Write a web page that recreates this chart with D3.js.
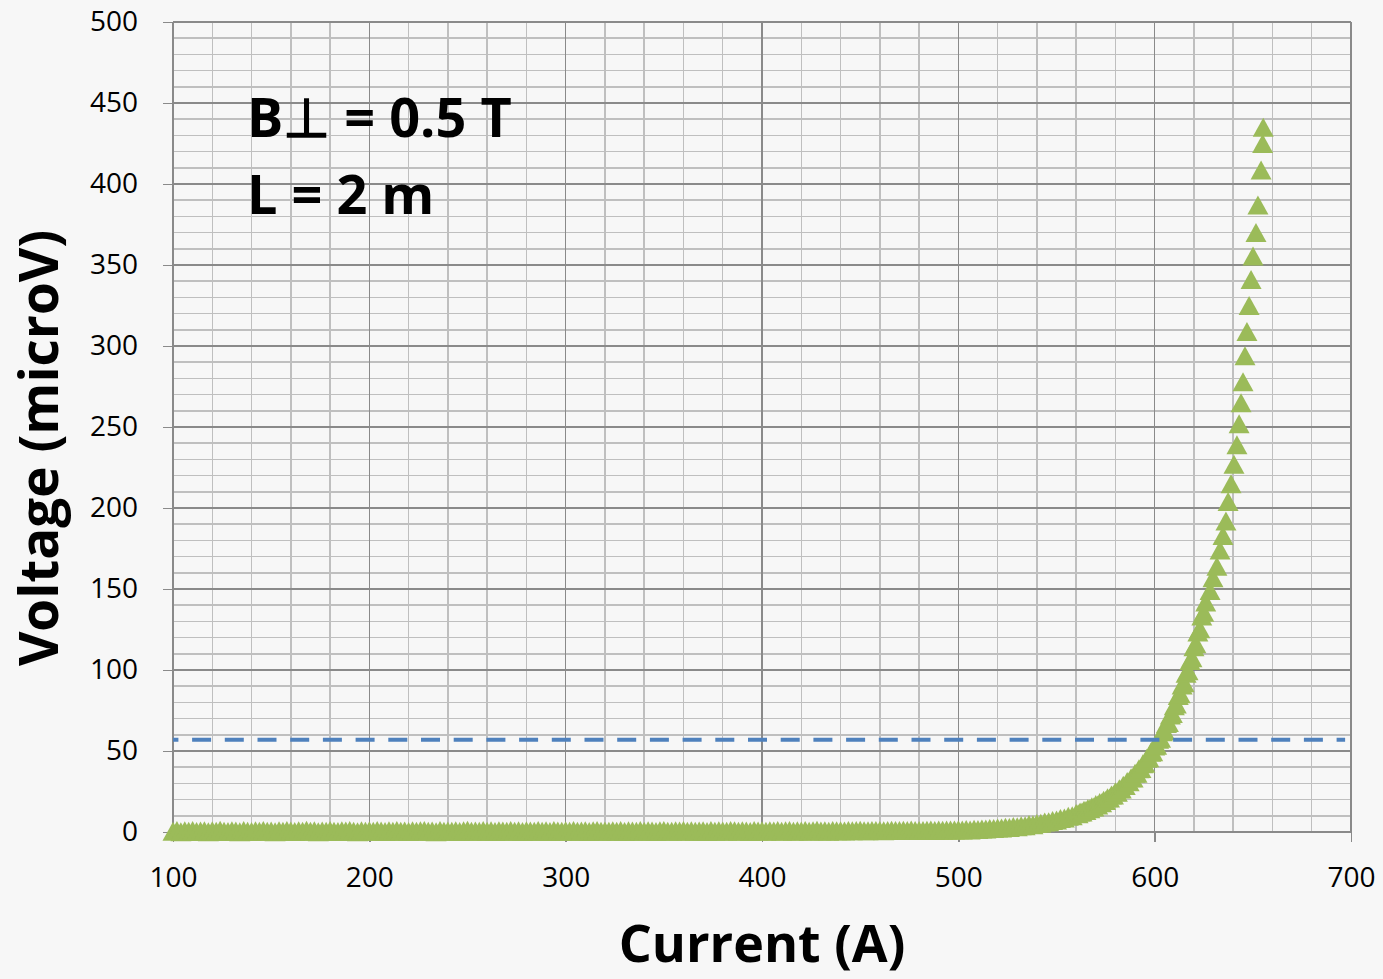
<!DOCTYPE html>
<html lang="en">
<head>
  <meta charset="UTF-8">
  <title>Voltage vs current</title>
  <script src="https://cdn.jsdelivr.net/npm/d3@7/dist/d3.min.js"></script>
  <style>
    body { margin: 0; background: #f7f7f7; }
    svg { display: block; background: #f7f7f7; font-family: "Open Sans", sans-serif; }
    .axis path, .axis line { stroke: #8a8a8a; stroke-width: 1.4; shape-rendering: crispEdges; }
    .axis text { font-family: "Open Sans", sans-serif; font-size: 28px; fill: #000; }
    .minor line { stroke: #bfbfbf; stroke-width: 1.5; shape-rendering: crispEdges; }
    .major line { stroke: #8a8a8a; stroke-width: 1.4; shape-rendering: crispEdges; }
    .title { font-weight: 700; fill: #000; }
  </style>
</head>
<body>
<svg width="1383" height="979"></svg>
<script>
  // measured points: current (A) and voltage (microV)
  const current = [
    100,102,104,106,108,110,112,114,116,118,
    120,122,124,126,128,130,132,134,136,138,
    140,142,144,146,148,150,152,154,156,158,
    160,162,164,166,168,170,172,174,176,178,
    180,182,184,186,188,190,192,194,196,198,
    200,202,204,206,208,210,212,214,216,218,
    220,222,224,226,228,230,232,234,236,238,
    240,242,244,246,248,250,252,254,256,258,
    260,262,264,266,268,270,272,274,276,278,
    280,282,284,286,288,290,292,294,296,298,
    300,302,304,306,308,310,312,314,316,318,
    320,322,324,326,328,330,332,334,336,338,
    340,342,344,346,348,350,352,354,356,358,
    360,362,364,366,368,370,372,374,376,378,
    380,382,384,386,388,390,392,394,396,398,
    400,402,404,406,408,410,412,414,416,418,
    420,422,424,426,428,430,432,434,436,438,
    440,442,444,446,448,450,452,454,456,458,
    460,462,464,466,468,470,472,474,476,478,
    480,482,484,486,488,490,492,494,496,498,
    500,502,504,506,508,510,512,514,516,518,
    520,522,524,526,528,530,532,534,536,538,
    540,542,544,546,548,550,552,554,556,558,
    560,561,562,563,564,565,566,567,568,569,
    570,571,572,573,574,575,576,577,578,579,
    580,581,582,583,584,585,586,587,588,589,
    590,591,592,593,594,595,596,597,598,599,
    600,601,602,603,604,605,606,607,608,609,
    610,611,612,613,614,615,616,617,618,619,
    620,621,622,623,624,625,626,
    628.2,629.7,631.7,633.3,634.8,636.3,637.4,638.9,640.4,641.9,
    643.0,644.0,645.0,646.0,647.0,648.1,649.1,650.1,651.6,652.6,
    654.2,655.0,655.3
  ];
  const voltage = [
    0.4,0.9,0.2,0.7,0.5,1.0,0.3,0.6,0.8,0.2,
    0.7,0.4,1.1,0.5,0.3,0.8,0.6,0.2,0.9,0.5,
    0.3,0.7,0.5,1.0,0.4,0.6,0.2,0.8,0.5,0.9,
    0.6,0.3,0.7,0.4,1.1,0.5,0.8,0.2,0.6,0.4,
    0.9,0.5,0.3,0.7,0.6,1.0,0.4,0.2,0.8,0.5,
    0.7,0.4,0.9,0.6,0.3,0.8,0.5,1.0,0.4,0.6,
    0.3,0.8,0.5,0.7,1.0,0.4,0.6,0.2,0.9,0.5,
    0.6,0.4,0.8,0.3,0.7,1.1,0.5,0.6,0.4,0.9,
    0.5,0.7,0.3,0.8,0.6,0.4,1.0,0.5,0.7,0.3,
    0.8,0.6,0.4,0.9,0.5,0.7,0.3,1.0,0.6,0.4,
    0.7,0.5,0.9,0.4,0.6,0.8,0.3,0.7,1.0,0.5,
    0.6,0.4,0.8,0.5,0.9,0.3,0.7,0.6,0.4,1.0,
    0.5,0.8,0.6,0.3,0.7,0.9,0.5,0.4,0.8,0.6,
    1.0,0.5,0.7,0.4,0.6,0.8,0.3,0.9,0.5,0.7,
    0.6,0.4,1.0,0.7,0.5,0.8,0.6,0.3,0.9,0.6,
    0.7,0.5,0.8,0.6,1.0,0.4,0.7,0.9,0.5,0.8,
    0.6,0.9,0.5,0.7,1.1,0.6,0.8,0.5,1.0,0.7,
    0.8,0.6,1.0,0.7,0.9,1.1,0.7,0.8,1.0,0.9,
    0.9,0.8,1.0,1.1,0.9,1.0,1.1,0.9,1.2,1.0,
    1.0,0.9,1.1,1.2,1.0,1.2,1.1,1.3,1.2,1.3,
    1.4,1.2,1.5,1.3,1.7,1.6,1.9,1.8,2.2,2.1,
    2.5,2.4,2.9,2.8,3.4,3.3,3.9,3.8,4.6,4.5,
    5.3,5.4,6.2,6.3,7.1,7.4,8.3,8.6,9.7,10.1,
    11.4,11.3,12.4,12.3,13.4,13.2,14.5,14.3,15.6,15.4,
    16.9,16.7,18.2,18.0,19.6,19.5,21.2,21.0,22.9,22.8,
    24.8,24.6,26.7,26.5,28.8,28.7,31.1,31.0,33.5,33.4,
    36.2,36.3,39.1,39.2,42.2,42.5,45.6,45.9,49.2,49.6,
    53.1,53.6,57.3,57.9,61.9,62.6,66.9,67.6,72.2,73.1,
    77.9,79.0,84.2,85.3,90.8,92.1,98.0,99.6,105.9,107.5,
    114.3,116.2,123.4,125.5,133.3,135.6,141.9,
    149,157,164,174,183,192,204,215,227,239,
    252,265,278,294,309,325,341,355.5,370,387,
    408.6,425,435
  ];

  // dashed reference level
  const thresholdCurrent = [100, 697];
  const thresholdVoltage = [57, 57];

  const xTicks = [100, 200, 300, 400, 500, 600, 700];
  const yTicks = [0, 50, 100, 150, 200, 250, 300, 350, 400, 450, 500];
  const noteLines = ["B\u22A5 = 0.5 T", "L = 2 m"];
  const xTitle = "Current (A)";
  const yTitle = "Voltage (microV)";

  const margin = { top: 22, right: 32, bottom: 147, left: 173 };
  const svg = d3.select('svg');
  const width = +svg.attr('width') - margin.left - margin.right;
  const height = +svg.attr('height') - margin.top - margin.bottom;

  const x = d3.scaleLinear().domain([100, 700]).range([0, width]);
  const y = d3.scaleLinear().domain([0, 500]).range([height, 0]);

  const g = svg.append('g').attr('transform', `translate(${margin.left},${margin.top})`);

  // minor grid (20 A / 10 microV), then major grid
  g.append('g').attr('class', 'minor')
    .selectAll('line.v').data(x.ticks(30)).join('line')
    .attr('x1', d => x(d)).attr('x2', d => x(d)).attr('y1', 0).attr('y2', height);
  g.append('g').attr('class', 'minor')
    .selectAll('line.h').data(y.ticks(50)).join('line')
    .attr('y1', d => y(d)).attr('y2', d => y(d)).attr('x1', 0).attr('x2', width);
  g.append('g').attr('class', 'major')
    .selectAll('line').data(xTicks).join('line')
    .attr('x1', d => x(d)).attr('x2', d => x(d)).attr('y1', 0).attr('y2', height);
  g.append('g').attr('class', 'major')
    .selectAll('line').data(yTicks).join('line')
    .attr('y1', d => y(d)).attr('y2', d => y(d)).attr('x1', 0).attr('x2', width);

  // axes
  g.append('g').attr('class', 'axis')
    .attr('transform', `translate(0,${height})`)
    .call(d3.axisBottom(x).tickValues(xTicks).tickSize(10).tickSizeOuter(0).tickPadding(25).tickFormat(d3.format('d')))
    .attr('font-family', null).attr('font-size', null);
  g.append('g').attr('class', 'axis')
    .call(d3.axisLeft(y).tickValues(yTicks).tickSize(10).tickSizeOuter(0).tickPadding(25).tickFormat(d3.format('d')))
    .attr('font-family', null).attr('font-size', null);
  g.selectAll('.axis .domain').attr('stroke', '#8a8a8a');

  // markers
  const pts = current.map((c, i) => ({ c: c, v: voltage[i] }));
  g.append('g')
    .selectAll('path').data(pts).join('path')
    .attr('d', 'M0,-9.5L10.5,9.5L-10.5,9.5Z')
    .attr('transform', d => `translate(${x(d.c)},${y(d.v)})`)
    .attr('fill', '#9bbb59');

  // dashed level line
  const line = d3.line().x(d => x(d[0])).y(d => y(d[1]));
  g.append('path')
    .datum(thresholdCurrent.map((c, i) => [c, thresholdVoltage[i]]))
    .attr('d', line)
    .attr('fill', 'none')
    .attr('stroke', '#4f81bd')
    .attr('stroke-width', 4)
    .attr('stroke-dasharray', '19,13.7')
    .attr('stroke-dashoffset', 13.6);

  // note text
  g.append('g').selectAll('text').data(noteLines).join('text')
    .attr('class', 'title')
    .attr('x', 74)
    .attr('y', (d, i) => 115 + i * 77)
    .style('font-size', '54px')
    .text(d => d);

  // axis titles
  svg.append('text').attr('class', 'title')
    .attr('x', margin.left + width / 2).attr('y', 962)
    .attr('text-anchor', 'middle')
    .style('font-size', '52px')
    .text(xTitle);
  svg.append('text').attr('class', 'title')
    .attr('transform', 'translate(58,448) rotate(-90)')
    .attr('text-anchor', 'middle')
    .style('font-size', '53px')
    .text(yTitle);
</script>
</body>
</html>
